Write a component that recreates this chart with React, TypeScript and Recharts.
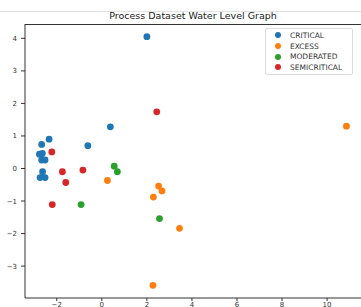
import { ScatterChart, Scatter, XAxis, YAxis } from "recharts";

const CRITICAL = [
  { x: 2.0, y: 4.05 },
  { x: 0.38, y: 1.28 },
  { x: -2.34, y: 0.9 },
  { x: -2.67, y: 0.74 },
  { x: -0.62, y: 0.7 },
  { x: -2.77, y: 0.44 },
  { x: -2.64, y: 0.46 },
  { x: -2.67, y: 0.26 },
  { x: -2.52, y: 0.26 },
  { x: -2.63, y: -0.1 },
  { x: -2.74, y: -0.28 },
  { x: -2.52, y: -0.28 },
];

const EXCESS = [
  { x: 0.25, y: -0.37 },
  { x: 2.52, y: -0.54 },
  { x: 2.67, y: -0.69 },
  { x: 2.29, y: -0.88 },
  { x: 3.45, y: -1.84 },
  { x: 2.27, y: -3.59 },
  { x: 10.86, y: 1.3 },
];

const MODERATED = [
  { x: 0.55, y: 0.07 },
  { x: 0.69, y: -0.1 },
  { x: -0.92, y: -1.11 },
  { x: 2.56, y: -1.54 },
];

const SEMICRITICAL = [
  { x: 2.44, y: 1.74 },
  { x: -2.22, y: 0.51 },
  { x: -1.75, y: -0.1 },
  { x: -0.84, y: -0.05 },
  { x: -1.6, y: -0.43 },
  { x: -2.2, y: -1.11 },
];

const X_TICKS = [-2, 0, 2, 4, 6, 8, 10];
const Y_TICKS = [-3, -2, -1, 0, 1, 2, 3, 4];

const SERIES = [
  { name: "CRITICAL", data: CRITICAL, color: "#1f77b4" },
  { name: "EXCESS", data: EXCESS, color: "#ff7f0e" },
  { name: "MODERATED", data: MODERATED, color: "#2ca02c" },
  { name: "SEMICRITICAL", data: SEMICRITICAL, color: "#d62728" },
];

const font = "'DejaVu Sans', sans-serif";
const tick = { fontSize: 7, fill: "#333", fontFamily: font };
const fmt = (v: number) => String(v).replace("-", "\u2212");

const dot = (color: string) => (p: any) => <circle cx={p.cx} cy={p.cy} r={3.4} fill={color} />;

function LegendBox() {
  return (
    <div
      style={{
        position: "absolute",
        left: 265,
        top: 28,
        border: "1px solid #ddd",
        borderRadius: 2,
        background: "#fff",
        padding: "1px 6px 1px 8px",
        fontFamily: font,
        fontSize: 7.5,
        color: "#333",
        width: 72,
      }}
    >
      {SERIES.map((s) => (
        <div key={s.name} style={{ display: "flex", alignItems: "center", height: 10.7 }}>
          <span
            style={{ width: 6, height: 6, borderRadius: 3, background: s.color, marginRight: 9, marginLeft: 1 }}
          />
          {s.name}
        </div>
      ))}
    </div>
  );
}

export default function App() {
  return (
    <div style={{ position: "fixed", left: 0, top: 0, width: 361, height: 307, background: "#fff", overflow: "hidden" }}>
      <div style={{ position: "absolute", left: 0, top: 11, width: 361, height: 1, background: "#e2e2e2" }} />
      <div
        style={{
          position: "absolute",
          left: 25,
          width: 336,
          top: 10,
          textAlign: "center",
          fontFamily: font,
          fontSize: 9.5,
          color: "#222",
        }}
      >
        Process Dataset Water Level Graph
      </div>
      <ScatterChart width={362} height={307} margin={{ top: 24, right: 0, bottom: 0, left: 0 }}>
        <XAxis
          type="number"
          dataKey="x"
          domain={[-3.41, 11.55]}
          ticks={X_TICKS}
          tickFormatter={fmt}
          allowDataOverflow
          height={9}
          tick={tick}
          tickSize={3}
          tickMargin={1}
          stroke="#333"
        />
        <YAxis
          type="number"
          dataKey="y"
          domain={[-3.98, 4.44]}
          ticks={Y_TICKS}
          tickFormatter={fmt}
          allowDataOverflow
          width={25}
          tick={tick}
          tickSize={4}
          tickMargin={4}
          stroke="#333"
        />
        {SERIES.map((s) => (
          <Scatter
            key={s.name}
            name={s.name}
            data={s.data}
            fill={s.color}
            shape={dot(s.color)}
            isAnimationActive={false}
          />
        ))}
      </ScatterChart>
      <div style={{ position: "absolute", left: 25, top: 24, width: 336, height: 1, background: "#333" }} />
      <LegendBox />
    </div>
  );
}
